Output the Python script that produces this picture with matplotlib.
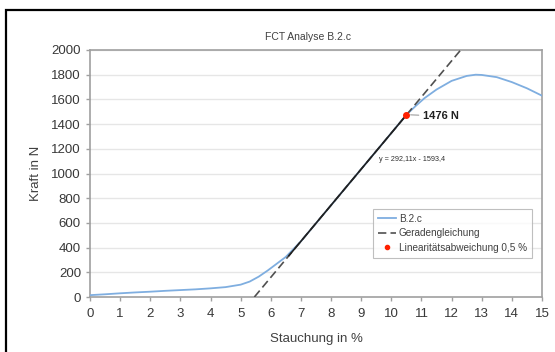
import numpy as np
import matplotlib
matplotlib.use("Agg")
import matplotlib.pyplot as plt
from matplotlib.lines import Line2D

plt.rcParams['font.family'] = ['Liberation Sans', 'DejaVu Sans']

# measured curve B.2.c (Stauchung in %, Kraft in N)
stauchung = [0, 0.5, 1, 1.5, 2, 2.5, 3, 3.5, 4, 4.5, 5, 5.3, 5.6, 5.9, 6.2, 6.5,
             7, 8, 9, 10, 10.5, 10.8, 11.1, 11.5, 12, 12.5, 12.8, 13, 13.5, 14, 14.5, 15]
kraft = [15, 22, 30, 37, 43, 50, 56, 62, 70, 80, 100, 125, 165, 215, 270, 325,
         451, 743, 1036, 1328, 1476, 1545, 1610, 1680, 1750, 1790, 1800, 1798, 1780, 1740, 1690, 1630]

# regression line y = 292,11x - 1593,4
slope = 292.11
intercept = -1593.4
fit_range = [6.6, 10.5]

# linearity deviation point
dev_x = 10.5
dev_y = 1476

text_col = '#404040'

fig = plt.figure(figsize=(5.55, 3.52), dpi=100)
ax = fig.add_axes([90 / 555, 1 - 297 / 352, 452 / 555, 247 / 352])

# outer frame (only left and top edges visible)
fx = 5.5 / 555
fy = 1 - 9.5 / 352
fig.lines.append(Line2D([fx, fx, 1.0], [-0.05, fy, fy], transform=fig.transFigure,
                        color='black', linewidth=1.6, solid_joinstyle='miter'))

ax.plot(stauchung, kraft, color='#7faee0', linewidth=1.3, zorder=3)

x_line = np.array([-intercept / slope, (2000 - intercept) / slope])
ax.plot(x_line, slope * x_line + intercept, color='#505050', linewidth=1.2,
        dashes=(5, 2.5), zorder=4)
x_fit = np.array(fit_range)
ax.plot(x_fit, slope * x_fit + intercept, color='#202020', linewidth=1.2, zorder=5)

ax.plot([dev_x], [dev_y], 'o', color='#ff2000', markersize=4, zorder=6)
ax.annotate('%d N' % dev_y, xy=(dev_x, dev_y), xytext=(dev_x + 0.55, dev_y - 10),
            fontsize=8, fontweight='bold', color='#202020', va='center',
            arrowprops=dict(arrowstyle='-', color='#909090', lw=0.7,
                            shrinkA=1, shrinkB=3))
ax.text(9.6, 1115, 'y = 292,11x - 1593,4', fontsize=5.2, color='#303030', va='center')

ax.set_xlim(0, 15)
ax.set_ylim(0, 2000)
ax.set_xticks(range(0, 16))
ax.set_yticks(range(0, 2001, 200))
ax.grid(axis='y', color='#e6e6e6', linewidth=1.0)
ax.set_axisbelow(True)
for s in ax.spines.values():
    s.set_color('#a0a0a0')
    s.set_linewidth(1.2)
ax.tick_params(colors='#a0a0a0', labelcolor='#383838', labelsize=9.5, length=3, width=1)
ax.tick_params(axis='x', pad=5)

ax.set_xlabel('Stauchung in %', fontsize=9.5, color=text_col, labelpad=9)
ax.set_ylabel('Kraft in N', fontsize=9.5, color=text_col, labelpad=7)
fig.text(308 / 555, 1 - 37 / 352, 'FCT Analyse B.2.c', fontsize=7.5, color=text_col,
         ha='center', va='center')

handles = [Line2D([], [], color='#7faee0', linewidth=1.3),
           Line2D([], [], color='#505050', linewidth=1.2, dashes=(5, 2.5)),
           Line2D([], [], marker='o', color='#ff2000', markersize=3, linestyle='none')]
labels = ['B.2.c', 'Geradengleichung', 'Linearitätsabweichung 0,5 %']
leg = ax.legend(handles, labels, loc='lower right', bbox_to_anchor=(0.989, 0.138),
                fontsize=7.2, frameon=True, fancybox=False, handlelength=1.8,
                handletextpad=0.3, borderpad=0.5, labelspacing=0.45)
leg.get_frame().set_edgecolor('#b0b0b0')
leg.get_frame().set_linewidth(0.8)
for t in leg.get_texts():
    t.set_color(text_col)

fig.savefig('out.png', dpi=100)
